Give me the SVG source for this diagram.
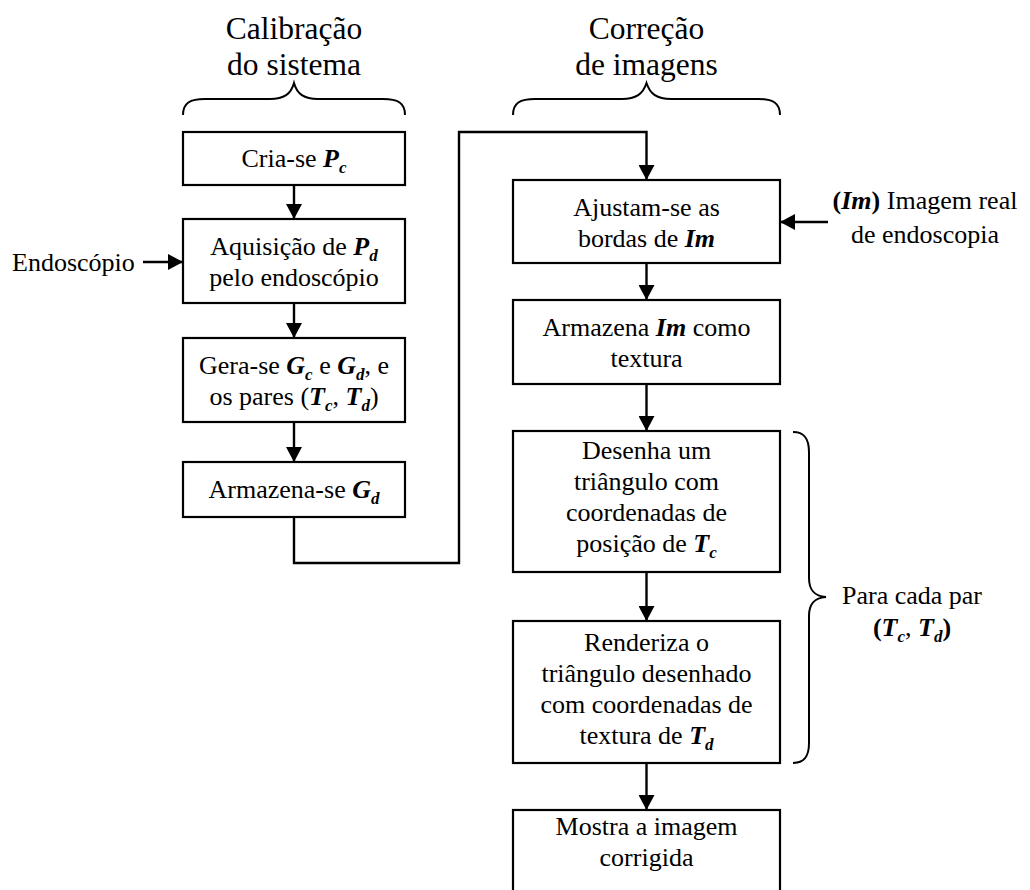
<svg xmlns="http://www.w3.org/2000/svg" width="1030" height="890" viewBox="0 0 1030 890" font-family="Liberation Serif, DejaVu Serif, serif">
  <style>
    text { font-family: "Liberation Serif", "DejaVu Serif", serif; font-size: 26px; fill: #000; }
    .t { text-anchor: middle; }
    .h { font-size: 31.5px; text-anchor: middle; }
    .v { font-weight: bold; font-style: italic; }
    .s { font-weight: bold; font-style: italic; font-size: 17px; }
    .b { font-weight: bold; }
    .box { fill: #fff; stroke: #000; stroke-width: 2.2; }
    .line { fill: none; stroke: #000; stroke-width: 2.4; }
    .brace { fill: none; stroke: #000; stroke-width: 2; }
  </style>
  <defs>
    <marker id="arrow" markerUnits="userSpaceOnUse" markerWidth="15" markerHeight="16" refX="15" refY="8" orient="auto">
      <path d="M0,0 L15,8 L0,16 z" fill="#000"/>
    </marker>
  </defs>
  <rect width="1030" height="890" fill="#fff"/>

  <!-- section headings -->
  <g id="heading-calibracao">
    <text class="h" x="294" y="39">Calibração</text>
    <text class="h" x="294" y="75">do sistema</text>
    <path class="brace" d="M183,115 C183,103 190,99 205,99 L270,99 C284,99 291,94 294,83 C297,94 304,99 318,99 L383,99 C398,99 405,103 405,115"/>
  </g>
  <g id="heading-correcao">
    <text class="h" x="646.5" y="39">Correção</text>
    <text class="h" x="646.5" y="75">de imagens</text>
    <path class="brace" d="M513,115 C513,103 520,99 535,99 L622,99 C636,99 643,94 646.5,83 C650,94 657,99 671,99 L758,99 C773,99 780,103 780,115"/>
  </g>

  <!-- connectors -->
  <g id="connectors">
    <line class="line" x1="294" y1="185" x2="294" y2="219" marker-end="url(#arrow)"/>
    <line class="line" x1="294" y1="303" x2="294" y2="338" marker-end="url(#arrow)"/>
    <line class="line" x1="294" y1="422" x2="294" y2="462" marker-end="url(#arrow)"/>
    <path class="line" d="M294,517 V563 H459 V132 H646.5 V180" marker-end="url(#arrow)"/>
    <line class="line" x1="143" y1="262" x2="183" y2="262" marker-end="url(#arrow)"/>
    <line class="line" x1="828" y1="222" x2="780" y2="222" marker-end="url(#arrow)"/>
    <line class="line" x1="646.5" y1="263" x2="646.5" y2="300" marker-end="url(#arrow)"/>
    <line class="line" x1="646.5" y1="384" x2="646.5" y2="431" marker-end="url(#arrow)"/>
    <line class="line" x1="646.5" y1="572" x2="646.5" y2="621" marker-end="url(#arrow)"/>
    <line class="line" x1="646.5" y1="763" x2="646.5" y2="810" marker-end="url(#arrow)"/>
  </g>

  <!-- calibration steps -->
  <g id="cria-pc">
    <rect class="box" x="183" y="132" width="222" height="53"/>
    <text class="t" x="294" y="167">Cria-se <tspan class="v">P</tspan><tspan class="s" dy="6">c</tspan></text>
  </g>
  <g id="aquisicao-pd">
    <rect class="box" x="183" y="219" width="222" height="84"/>
    <text class="t" x="294" y="255">Aquisição de <tspan class="v">P</tspan><tspan class="s" dy="6">d</tspan></text>
    <text class="t" x="294" y="286">pelo endoscópio</text>
  </g>
  <g id="gera-grades">
    <rect class="box" x="183" y="338" width="222" height="84"/>
    <text class="t" x="294" y="374">Gera-se <tspan class="v">G</tspan><tspan class="s" dy="6">c</tspan><tspan dy="-6"> e </tspan><tspan class="v">G</tspan><tspan class="s" dy="6">d</tspan><tspan dy="-6">, e</tspan></text>
    <text class="t" x="294" y="405">os pares (<tspan class="v">T</tspan><tspan class="s" dy="6">c</tspan><tspan dy="-6">, </tspan><tspan class="v">T</tspan><tspan class="s" dy="6">d</tspan><tspan dy="-6">)</tspan></text>
  </g>
  <g id="armazena-gd">
    <rect class="box" x="183" y="462" width="222" height="55"/>
    <text class="t" x="294" y="498">Armazena-se <tspan class="v">G</tspan><tspan class="s" dy="6">d</tspan></text>
  </g>
  <g id="endoscopio">
    <text x="12" y="271">Endoscópio</text>
  </g>

  <!-- image correction steps -->
  <g id="ajusta-bordas">
    <rect class="box" x="513" y="180" width="267" height="83"/>
    <text class="t" x="646.5" y="216">Ajustam-se as</text>
    <text class="t" x="646.5" y="247">bordas de <tspan class="v">Im</tspan></text>
  </g>
  <g id="imagem-real">
    <text class="t" x="925" y="209"><tspan class="b">(</tspan><tspan class="v">Im</tspan><tspan class="b">)</tspan> Imagem real</text>
    <text class="t" x="925" y="243">de endoscopia</text>
  </g>
  <g id="armazena-textura">
    <rect class="box" x="513" y="300" width="267" height="84"/>
    <text class="t" x="646.5" y="336">Armazena <tspan class="v">Im</tspan> como</text>
    <text class="t" x="646.5" y="367">textura</text>
  </g>
  <g id="desenha-triangulo">
    <rect class="box" x="513" y="431" width="267" height="141"/>
    <text class="t" x="646.5" y="459">Desenha um</text>
    <text class="t" x="646.5" y="490">triângulo com</text>
    <text class="t" x="646.5" y="521">coordenadas de</text>
    <text class="t" x="646.5" y="552">posição de <tspan class="v">T</tspan><tspan class="s" dy="6">c</tspan></text>
  </g>
  <g id="renderiza-triangulo">
    <rect class="box" x="513" y="621" width="267" height="142"/>
    <text class="t" x="646.5" y="651">Renderiza o</text>
    <text class="t" x="646.5" y="682">triângulo desenhado</text>
    <text class="t" x="646.5" y="713">com coordenadas de</text>
    <text class="t" x="646.5" y="744">textura de <tspan class="v">T</tspan><tspan class="s" dy="6">d</tspan></text>
  </g>
  <g id="mostra-imagem">
    <rect class="box" x="513" y="810" width="267" height="90"/>
    <text class="t" x="646.5" y="835">Mostra a imagem</text>
    <text class="t" x="646.5" y="866">corrigida</text>
  </g>

  <!-- loop over triangle pairs -->
  <g id="para-cada-par">
    <path class="brace" d="M793,432 C804,432 809,438 809,452 L809,578 C809,590 814,596 826,597 C814,598 809,604 809,616 L809,743 C809,757 804,763 793,763"/>
    <text class="t" x="912" y="604">Para cada par</text>
    <text class="t" x="912" y="636"><tspan class="b">(</tspan><tspan class="v">T</tspan><tspan class="s" dy="6">c</tspan><tspan dy="-6">, </tspan><tspan class="v">T</tspan><tspan class="s" dy="6">d</tspan><tspan class="b" dy="-6">)</tspan></text>
  </g>
</svg>
